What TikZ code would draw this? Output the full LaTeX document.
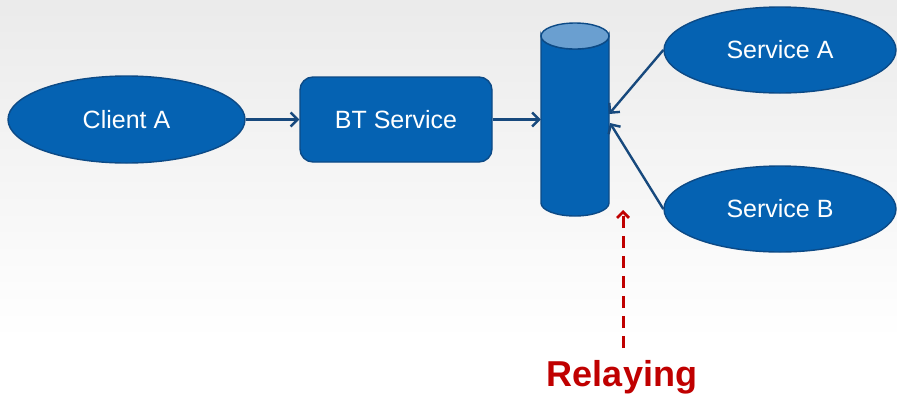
\documentclass[tikz,border=0pt]{standalone}
\usepackage{fontspec}
\setmainfont{Liberation Sans}
\usetikzlibrary{arrows.meta,shapes.geometric}
\definecolor{bfill}{HTML}{0562B2}
\definecolor{bedge}{HTML}{0C4A86}
\definecolor{barrow}{HTML}{17497D}
\definecolor{ctop}{HTML}{6A9FD0}
\definecolor{relred}{HTML}{C00000}
\tikzset{
  x=1pt, y=-1pt,
  oval/.style={ellipse, draw=bedge, line width=1.4pt, fill=bfill, text=white,
    inner sep=0pt, minimum width=237pt, minimum height=87pt, font=\fontsize{25}{28}\selectfont},
  rbox/.style={rectangle, rounded corners=13pt, draw=bedge, line width=1.4pt, fill=bfill, text=white,
    inner sep=0pt, minimum width=192pt, minimum height=85pt, font=\fontsize{25}{28}\selectfont},
  cylface/.style={draw=bedge, line width=1.4pt},
  link/.style={draw=barrow, line width=2.4pt, -{Straight Barb[length=7pt,width=14pt,line width=2.4pt]}},
  relink/.style={draw=relred, line width=3pt, dash pattern=on 12pt off 8pt,
    -{Straight Barb[length=6pt,width=12pt,line width=2.8pt]}},
}
\begin{document}
\begin{tikzpicture}
\useasboundingbox (0,0) rectangle (897,405);
\shade[top color=black!8, bottom color=white] (0,0) rectangle (897,340);
\fill[white] (0,340) rectangle (897,405);

\node[oval] (client) at (126.5,119.5) {Client A};
\node[rbox] (bt) at (396,119.5) {BT Service};
\node[oval, minimum width=232pt, minimum height=86pt] (sa) at (780,50) {Service A};
\node[oval, minimum width=232pt, minimum height=86pt] (sb) at (780,209) {Service B};

% cylinder
\node[inner sep=0pt, minimum width=68pt, minimum height=193pt] (cyl) at (575,119.5) {};
\path[cylface, fill=bfill] (541,36) -- (541,203)
  arc[start angle=180, end angle=0, x radius=34, y radius=13] -- (609,36)
  arc[start angle=0, end angle=180, x radius=34, y radius=13] -- cycle;
\path[cylface, fill=ctop] (575,36) ellipse[x radius=34, y radius=13];

\coordinate (cA) at (609,114);
\coordinate (cB) at (610,123);
\coordinate (rtip) at (623,210);
\coordinate (rstart) at (623,348);

\draw[link] (client.east) -- (bt.west);
\draw[link] (bt.east) -- (bt.east -| cyl.west);
\draw[link] (sa.west) -- (cA);
\draw[link] (sb.west) -- (cB);

\node[text=relred, font=\bfseries\fontsize{36}{40}\selectfont, inner sep=0pt] (relay) at (622,377) {Relaying};
\draw[relink] (rstart) -- (rtip);
\end{tikzpicture}
\end{document}
